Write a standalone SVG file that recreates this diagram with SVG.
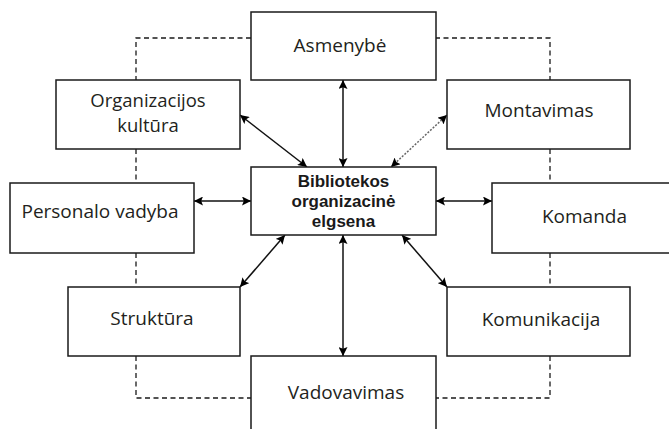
<svg xmlns="http://www.w3.org/2000/svg" width="669" height="429" viewBox="0 0 669 429">
<style>
.box{fill:#fff;stroke:#1a1a1a;stroke-width:1.5}
.t{font-family:"Open Sans","Liberation Sans",sans-serif;font-size:19px;fill:#231f20;text-anchor:middle}
.s{font-size:18.5px}
.b{font-family:"Liberation Sans","Open Sans",sans-serif;font-size:17px;font-weight:bold;fill:#1a1a1a;text-anchor:middle}
.dash{fill:none;stroke:#1a1a1a;stroke-width:1.3;stroke-dasharray:5,3.5}
.arr{fill:none;stroke:#111;stroke-width:1.5;marker-start:url(#ah);marker-end:url(#ah)}
.dot{fill:none;stroke:#666;stroke-width:1.5;stroke-dasharray:2,1.5;marker-start:url(#ah);marker-end:url(#ah)}
</style>
<defs>
<marker id="ah" viewBox="0 0 10 10" refX="10" refY="5" markerWidth="10" markerHeight="9" markerUnits="userSpaceOnUse" orient="auto-start-reverse">
<path d="M0,0 L10,5 L0,10 L2,5 Z" fill="#000"/>
</marker>
</defs>
<rect width="669" height="429" fill="#fff"/>
<g id="connectors">
<path class="dash" d="M251,38 H136 V80 M136,149 V183 M136,253 V287 M136,356 V398 H251"/>
<path class="dash" d="M435,38 H550 V80 M550,149 V183 M550,253 V287 M550,356 V398 H435"/>
<line class="arr" x1="343" y1="80" x2="343" y2="167"/>
<line class="arr" x1="343" y1="235" x2="343" y2="356"/>
<line class="arr" x1="194" y1="201" x2="251" y2="201"/>
<line class="arr" x1="436" y1="201" x2="492" y2="201"/>
<line class="arr" x1="240" y1="115" x2="307" y2="167"/>
<line class="dot" x1="447" y1="115" x2="391" y2="167"/>
<line class="arr" x1="240" y1="287" x2="285" y2="235"/>
<line class="arr" x1="447" y1="287" x2="402" y2="235"/>
</g>
<g id="asmenybe"><rect class="box" x="251" y="12" width="185" height="68"/><text class="t" x="340" y="52">Asmenybė</text></g>
<g id="organizacijos-kultura"><rect class="box" x="56" y="80" width="184" height="69"/><text class="t s" x="148" y="107">Organizacijos</text><text class="t s" x="148" y="132">kultūra</text></g>
<g id="montavimas"><rect class="box" x="447" y="80" width="183" height="69"/><text class="t" x="539" y="117">Montavimas</text></g>
<g id="personalo-vadyba"><rect class="box" x="10" y="183" width="184" height="70"/><text class="t" x="100" y="218">Personalo vadyba</text></g>
<g id="center"><rect class="box" x="251" y="167" width="185" height="68"/><text class="b" x="343.5" y="187">Bibliotekos</text><text class="b" x="343.5" y="207">organizacinė</text><text class="b" x="343.5" y="227">elgsena</text></g>
<g id="komanda"><rect class="box" x="492" y="183" width="190" height="70"/><text class="t" x="584.5" y="223">Komanda</text></g>
<g id="struktura"><rect class="box" x="68" y="287" width="172" height="69"/><text class="t" x="152" y="325">Struktūra</text></g>
<g id="komunikacija"><rect class="box" x="447" y="287" width="183" height="69"/><text class="t" x="541" y="326">Komunikacija</text></g>
<g id="vadovavimas"><rect class="box" x="251" y="356" width="185" height="85"/><text class="t" x="346" y="399">Vadovavimas</text></g>
</svg>
